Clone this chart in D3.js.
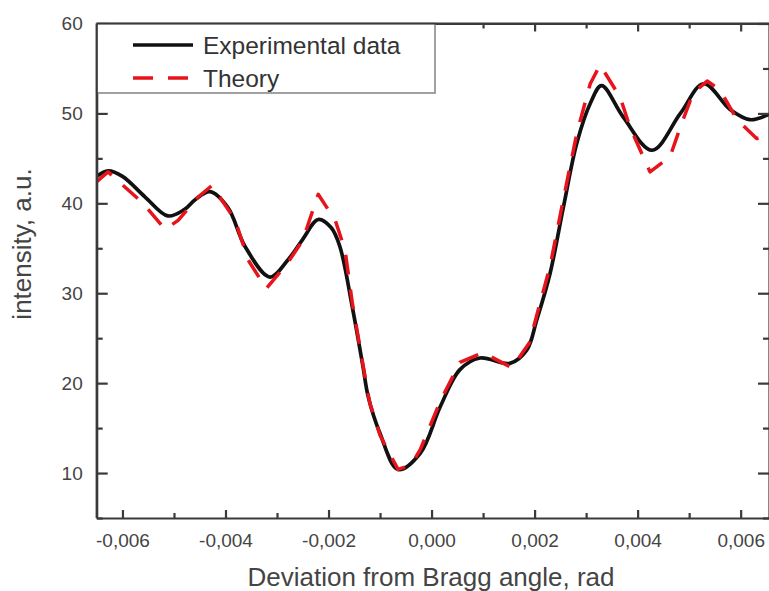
<!DOCTYPE html>
<html><head><meta charset="utf-8">
<script src="https://cdn.jsdelivr.net/npm/d3@7"></script>
<style>
html,body{margin:0;padding:0;background:#fff;}
svg{display:block;font-family:"Liberation Sans",Arial,sans-serif;}
</style>
</head><body>
<svg id="chart" width="769" height="591"></svg>
<script>
// ---- data (x in rad, y in a.u.) ----
const expX = [-0.0065,-0.00628,-0.006,-0.00556,-0.00512,-0.0048,-0.00459,-0.0043,-0.00395,-0.00362,-0.00314,-0.00279,-0.0025,-0.0022,-0.00195,-0.00178,-0.00154,-0.00133,-0.00123,-0.001,-0.00065,-0.00022,0.00017,0.00055,0.00094,0.00152,0.00185,0.00204,0.0023,0.00256,0.00282,0.00308,0.0033,0.00372,0.00428,0.00483,0.00528,0.0058,0.00618,0.00655];
const expY = [43.0,43.6,43.0,40.7,38.6,39.3,40.4,41.3,39.5,35.2,31.8,33.7,36.0,38.2,37.3,35.2,28.5,21.8,18.5,14.4,10.4,12.2,17.4,21.5,22.8,22.2,23.7,27.0,32.2,39.6,46.7,51.1,53.1,49.6,45.9,50.0,53.3,50.4,49.3,49.9];
const thX = [-0.0065,-0.00628,-0.0056,-0.00517,-0.00492,-0.00453,-0.00426,-0.00381,-0.00356,-0.00321,-0.00279,-0.0025,-0.0022,-0.00187,-0.00168,-0.00154,-0.00133,-0.0012,-0.001,-0.0008,-0.00065,-0.0004,-0.00022,0.00017,0.00055,0.001,0.00156,0.0019,0.00204,0.0023,0.00256,0.00282,0.00308,0.00327,0.00366,0.00385,0.00424,0.00463,0.00483,0.00508,0.00535,0.0056,0.00593,0.00631,0.00655];
const thY = [42.4,43.5,40.0,37.1,38.1,40.7,42.0,38.1,33.7,30.5,33.4,35.9,41.0,38.1,34.8,29.0,22.0,17.8,14.2,12.0,10.4,10.9,12.6,18.0,22.3,23.4,21.7,24.5,27.5,33.0,40.5,47.8,53.3,55.4,51.8,48.5,43.5,45.2,48.5,52.3,53.6,52.6,49.3,47.2,47.6];
const xMajorTicks = [-0.006,-0.004,-0.002,0,0.002,0.004,0.006];
const xMinorTicks = [-0.005,-0.003,-0.001,0.001,0.003,0.005];
const yMajorTicks = [10,20,30,40,50,60];
const yMinorTicks = [5,15,25,35,45,55];
const seriesNames = ["Experimental data","Theory"];
const xTitle = "Deviation from Bragg angle, rad";
const yTitle = "intensity, a.u.";

const svg = d3.select("#chart");
const L = 96.7, R = 769, T = 23.5, B = 518;
const x = d3.scaleLinear().domain([-0.0065, 0.00655]).range([L, R]);
const y = d3.scaleLinear().domain([5, 60]).range([B, T]);
const axisColor = "#3a3a3a";
const fmt = v => (v < 0 ? "-" : "") + Math.abs(v).toFixed(3).replace(".", ",");

svg.append("defs").append("clipPath").attr("id","clip")
  .append("rect").attr("x", L).attr("y", T).attr("width", R - L).attr("height", B - T);

// curves
const exp = expX.map((d,i)=>[d, expY[i]]);
const th = thX.map((d,i)=>[d, thY[i]]);
const g = svg.append("g").attr("clip-path","url(#clip)");
g.append("path").datum(exp)
  .attr("d", d3.line().x(d=>x(d[0])).y(d=>y(d[1])).curve(d3.curveCatmullRom.alpha(0.5)))
  .attr("fill","none").attr("stroke","#111").attr("stroke-width",3.7).attr("stroke-linejoin","round");
g.append("path").datum(th)
  .attr("d", d3.line().x(d=>x(d[0])).y(d=>y(d[1])).curve(d3.curveLinear))
  .attr("fill","none").attr("stroke","#e8141c").attr("stroke-width",3.5)
  .attr("stroke-dasharray","20,15").attr("stroke-linejoin","round");

// axes
function styleAxis(sel){
  sel.select(".domain").attr("stroke", axisColor).attr("stroke-width", 2.2);
  sel.selectAll(".tick line").attr("stroke", axisColor).attr("stroke-width", 2.2);
}
// bottom
const xb = svg.append("g").attr("transform",`translate(0,${B})`)
  .call(d3.axisBottom(x).tickValues(xMajorTicks).tickSize(-8).tickSizeOuter(0).tickFormat(fmt).tickPadding(15.5));
styleAxis(xb);
xb.selectAll("text").attr("font-size","19px").attr("fill","#444").attr("font-family",'"Liberation Sans",Arial,sans-serif');
svg.append("g").attr("transform",`translate(0,${B})`)
  .call(d3.axisBottom(x).tickValues(xMinorTicks).tickSize(-5).tickSizeOuter(0).tickFormat(""))
  .call(s=>{s.select(".domain").remove(); s.selectAll(".tick line").attr("stroke",axisColor).attr("stroke-width",2.2);});
// top
const xt = svg.append("g").attr("transform",`translate(0,${T})`)
  .call(d3.axisTop(x).tickValues(xMajorTicks).tickSize(-8).tickSizeOuter(0).tickFormat(""));
styleAxis(xt);
svg.append("g").attr("transform",`translate(0,${T})`)
  .call(d3.axisTop(x).tickValues(xMinorTicks).tickSize(-5).tickSizeOuter(0).tickFormat(""))
  .call(s=>{s.select(".domain").remove(); s.selectAll(".tick line").attr("stroke",axisColor).attr("stroke-width",2.2);});
// left
const yl = svg.append("g").attr("transform",`translate(${L},0)`)
  .call(d3.axisLeft(y).tickValues(yMajorTicks).tickSize(-11).tickSizeOuter(0).tickPadding(14));
styleAxis(yl);
yl.selectAll("text").attr("font-size","19px").attr("fill","#444").attr("font-family",'"Liberation Sans",Arial,sans-serif');
svg.append("g").attr("transform",`translate(${L},0)`)
  .call(d3.axisLeft(y).tickValues(yMinorTicks).tickSize(-6).tickSizeOuter(0).tickFormat(""))
  .call(s=>{s.select(".domain").remove(); s.selectAll(".tick line").attr("stroke",axisColor).attr("stroke-width",2.2);});
// right
const yr = svg.append("g").attr("transform",`translate(${R},0)`)
  .call(d3.axisRight(y).tickValues(yMajorTicks).tickSize(-11).tickSizeOuter(0).tickFormat(""));
styleAxis(yr);
svg.append("g").attr("transform",`translate(${R},0)`)
  .call(d3.axisRight(y).tickValues(yMinorTicks).tickSize(-6).tickSizeOuter(0).tickFormat(""))
  .call(s=>{s.select(".domain").remove(); s.selectAll(".tick line").attr("stroke",axisColor).attr("stroke-width",2.2);});

// legend
const lg = svg.append("g");
lg.append("rect").attr("x", L).attr("y", T).attr("width", 435 - L).attr("height", 93 - T)
  .attr("fill","#fff").attr("stroke","#8a8a8a").attr("stroke-width",1.6);
lg.append("line").attr("x1",133).attr("x2",193).attr("y1",45).attr("y2",45)
  .attr("stroke","#111").attr("stroke-width",3.5);
lg.append("line").attr("x1",133).attr("x2",193).attr("y1",78).attr("y2",78)
  .attr("stroke","#e8141c").attr("stroke-width",3.5).attr("stroke-dasharray","20,15");
lg.append("text").attr("x",203).attr("y",53.5).attr("font-size","24.5px").attr("fill","#333").text(seriesNames[0]);
lg.append("text").attr("x",203).attr("y",86.5).attr("font-size","24.5px").attr("fill","#333").text(seriesNames[1]);
// redraw top/left axis lines over legend border
svg.append("line").attr("x1",L).attr("x2",R).attr("y1",T).attr("y2",T).attr("stroke",axisColor).attr("stroke-width",2.2);
svg.append("line").attr("x1",L).attr("x2",L).attr("y1",T).attr("y2",B).attr("stroke",axisColor).attr("stroke-width",2.2);

// titles
svg.append("text").attr("x", 431).attr("y", 586).attr("text-anchor","middle")
  .attr("font-size","26px").attr("fill","#444").text(xTitle);
svg.append("text").attr("transform","translate(31,244) rotate(-90)").attr("text-anchor","middle")
  .attr("font-size","26px").attr("fill","#444").text(yTitle);
</script>
</body></html>
